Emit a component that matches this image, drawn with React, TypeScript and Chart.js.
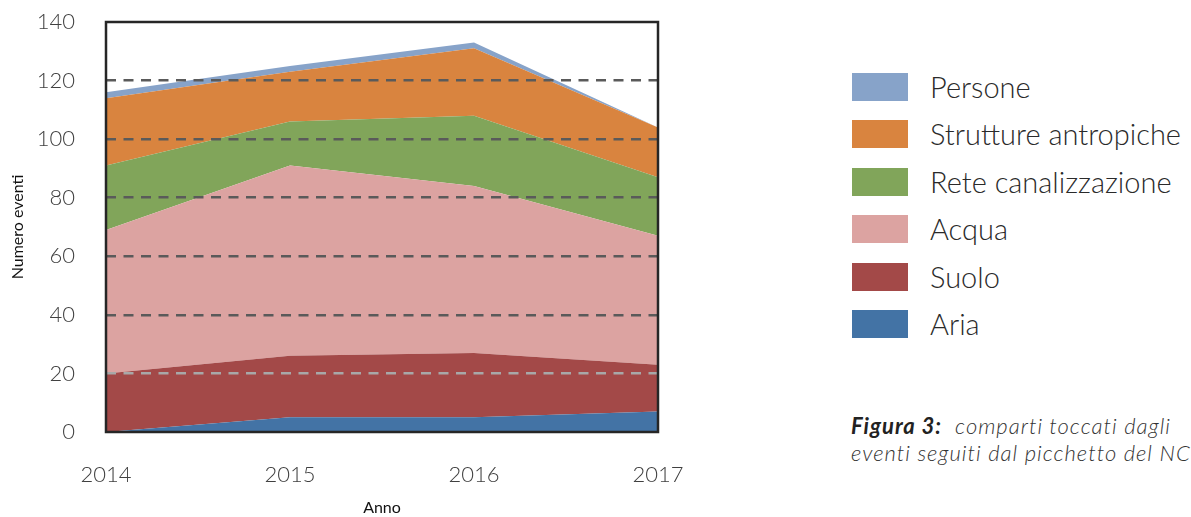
import React, { useEffect, useRef } from 'react';
import { Chart, registerables } from 'chart.js';
Chart.register(...registerables);

const years = ['2014', '2015', '2016', '2017'];
const aria = [0, 5, 5, 7];
const suolo = [20, 21, 22, 16];
const acqua = [49, 65, 57, 44];
const rete = [22, 15, 24, 20];
const strutture = [23, 17, 23, 17];
const persone = [2, 2, 2, 0];

const seriesNames = ['Aria', 'Suolo', 'Acqua', 'Rete canalizzazione', 'Strutture antropiche', 'Persone'];
const seriesColors = ['#4373a5', '#a34948', '#dca3a1', '#81a55a', '#d9843f', '#87a3c9'];
const yMax = 140;
const yStep = 20;
const xTitle = 'Anno';
const yTitle = 'Numero eventi';
const captionBold = 'Figura 3:';
const captionLine1 = 'comparti toccati dagli';
const captionLine2 = 'eventi seguiti dal picchetto del NC';

const FONT = 'Lato, "Noto Sans", sans-serif';

const framePlugin = {
  id: 'frame',
  afterDraw(chart: any) {
    const { ctx, chartArea } = chart;
    const { left, top, right, bottom } = chartArea;
    ctx.save();
    ctx.strokeStyle = '#262626';
    ctx.lineWidth = 2.5;
    ctx.strokeRect(left, top, right - left, bottom - top);
    ctx.restore();
  },
};

export default function App() {
  const ref = useRef<HTMLCanvasElement | null>(null);

  useEffect(() => {
    if (!ref.current) return;
    const values = [aria, suolo, acqua, rete, strutture, persone];
    const chart = new Chart(ref.current, {
      type: 'line',
      data: {
        labels: years,
        datasets: values.map((v, i) => ({
          label: seriesNames[i],
          data: v,
          backgroundColor: seriesColors[i],
          borderColor: seriesColors[i],
          borderWidth: 0,
          pointRadius: 0,
          tension: 0,
          fill: i === 0 ? 'origin' : '-1',
        })),
      },
      options: {
        responsive: false,
        animation: false,
        devicePixelRatio: 1,
        layout: { padding: { top: 22, right: 42, left: 0, bottom: 0 } },
        plugins: { legend: { display: false }, tooltip: { enabled: false } },
        scales: {
          x: {
            offset: false,
            grid: { display: false },
            border: { display: false },
            ticks: {
              padding: 22,
              color: '#404040',
              font: { family: FONT, size: 22, weight: '300' },
              maxRotation: 0,
            },
            title: {
              display: true,
              text: xTitle,
              color: '#111',
              padding: { top: 0, bottom: 0 },
              font: { family: FONT, size: 16 },
            },
            afterFit: (scale: any) => {
              scale.height = 85;
              scale.paddingLeft = 0;
              scale.paddingRight = 0;
            },
          },
          y: {
            stacked: true,
            min: 0,
            max: yMax,
            grid: {
              z: 1,
              drawTicks: false,
              lineWidth: 2.5,
              color: (c: any) =>
                c.tick && (c.tick.value === 0 || c.tick.value === yMax)
                  ? 'rgba(0,0,0,0)'
                  : c.tick && c.tick.value === yStep
                  ? '#a8a8a8'
                  : '#5a5a5a',
            },
            border: { display: false, dash: [10, 7.5] },
            ticks: {
              stepSize: yStep,
              padding: 31,
              color: '#404040',
              font: { family: FONT, size: 22, weight: '300' },
            },
            title: {
              display: true,
              text: yTitle,
              color: '#111',
              padding: { top: 8, bottom: 0 },
              font: { family: FONT, size: 16 },
            },
            afterFit: (scale: any) => {
              scale.width = 106;
              scale.paddingTop = 0;
              scale.paddingBottom = 0;
            },
          },
        },
      },
      plugins: [framePlugin],
    });
    return () => chart.destroy();
  }, []);

  const legendOrder = [5, 4, 3, 2, 1, 0];

  return (
    <div
      style={{
        position: 'fixed',
        left: 0,
        top: 0,
        width: 1191,
        height: 517,
        overflow: 'hidden',
        background: '#fff',
        fontFamily: FONT,
      }}
    >
      <canvas ref={ref} width={700} height={517} style={{ position: 'absolute', left: 0, top: 0 }} />
      {legendOrder.map((idx, row) => (
        <div
          key={idx}
          style={{
            position: 'absolute',
            left: 852,
            top: 73 + row * 47.4,
            height: 28,
            display: 'flex',
            alignItems: 'center',
            whiteSpace: 'nowrap',
          }}
        >
          <div style={{ width: 56, height: 28, background: seriesColors[idx] }} />
          <span
            style={{
              marginLeft: 22,
              fontSize: 29,
              fontWeight: 300,
              color: '#2a2a2a',
              lineHeight: '28px',
            }}
          >
            {seriesNames[idx]}
          </span>
        </div>
      ))}
      <div
        style={{
          position: 'absolute',
          left: 851,
          top: 412,
          fontSize: 22,
          letterSpacing: 1,
          lineHeight: '27px',
          fontStyle: 'italic',
          fontWeight: 300,
          color: '#333',
          whiteSpace: 'nowrap',
        }}
      >
        <div>
          <span style={{ fontWeight: 700, color: '#222' }}>{captionBold}</span>
          {'\u00a0 '}
          {captionLine1}
        </div>
        <div>{captionLine2}</div>
      </div>
    </div>
  );
}
